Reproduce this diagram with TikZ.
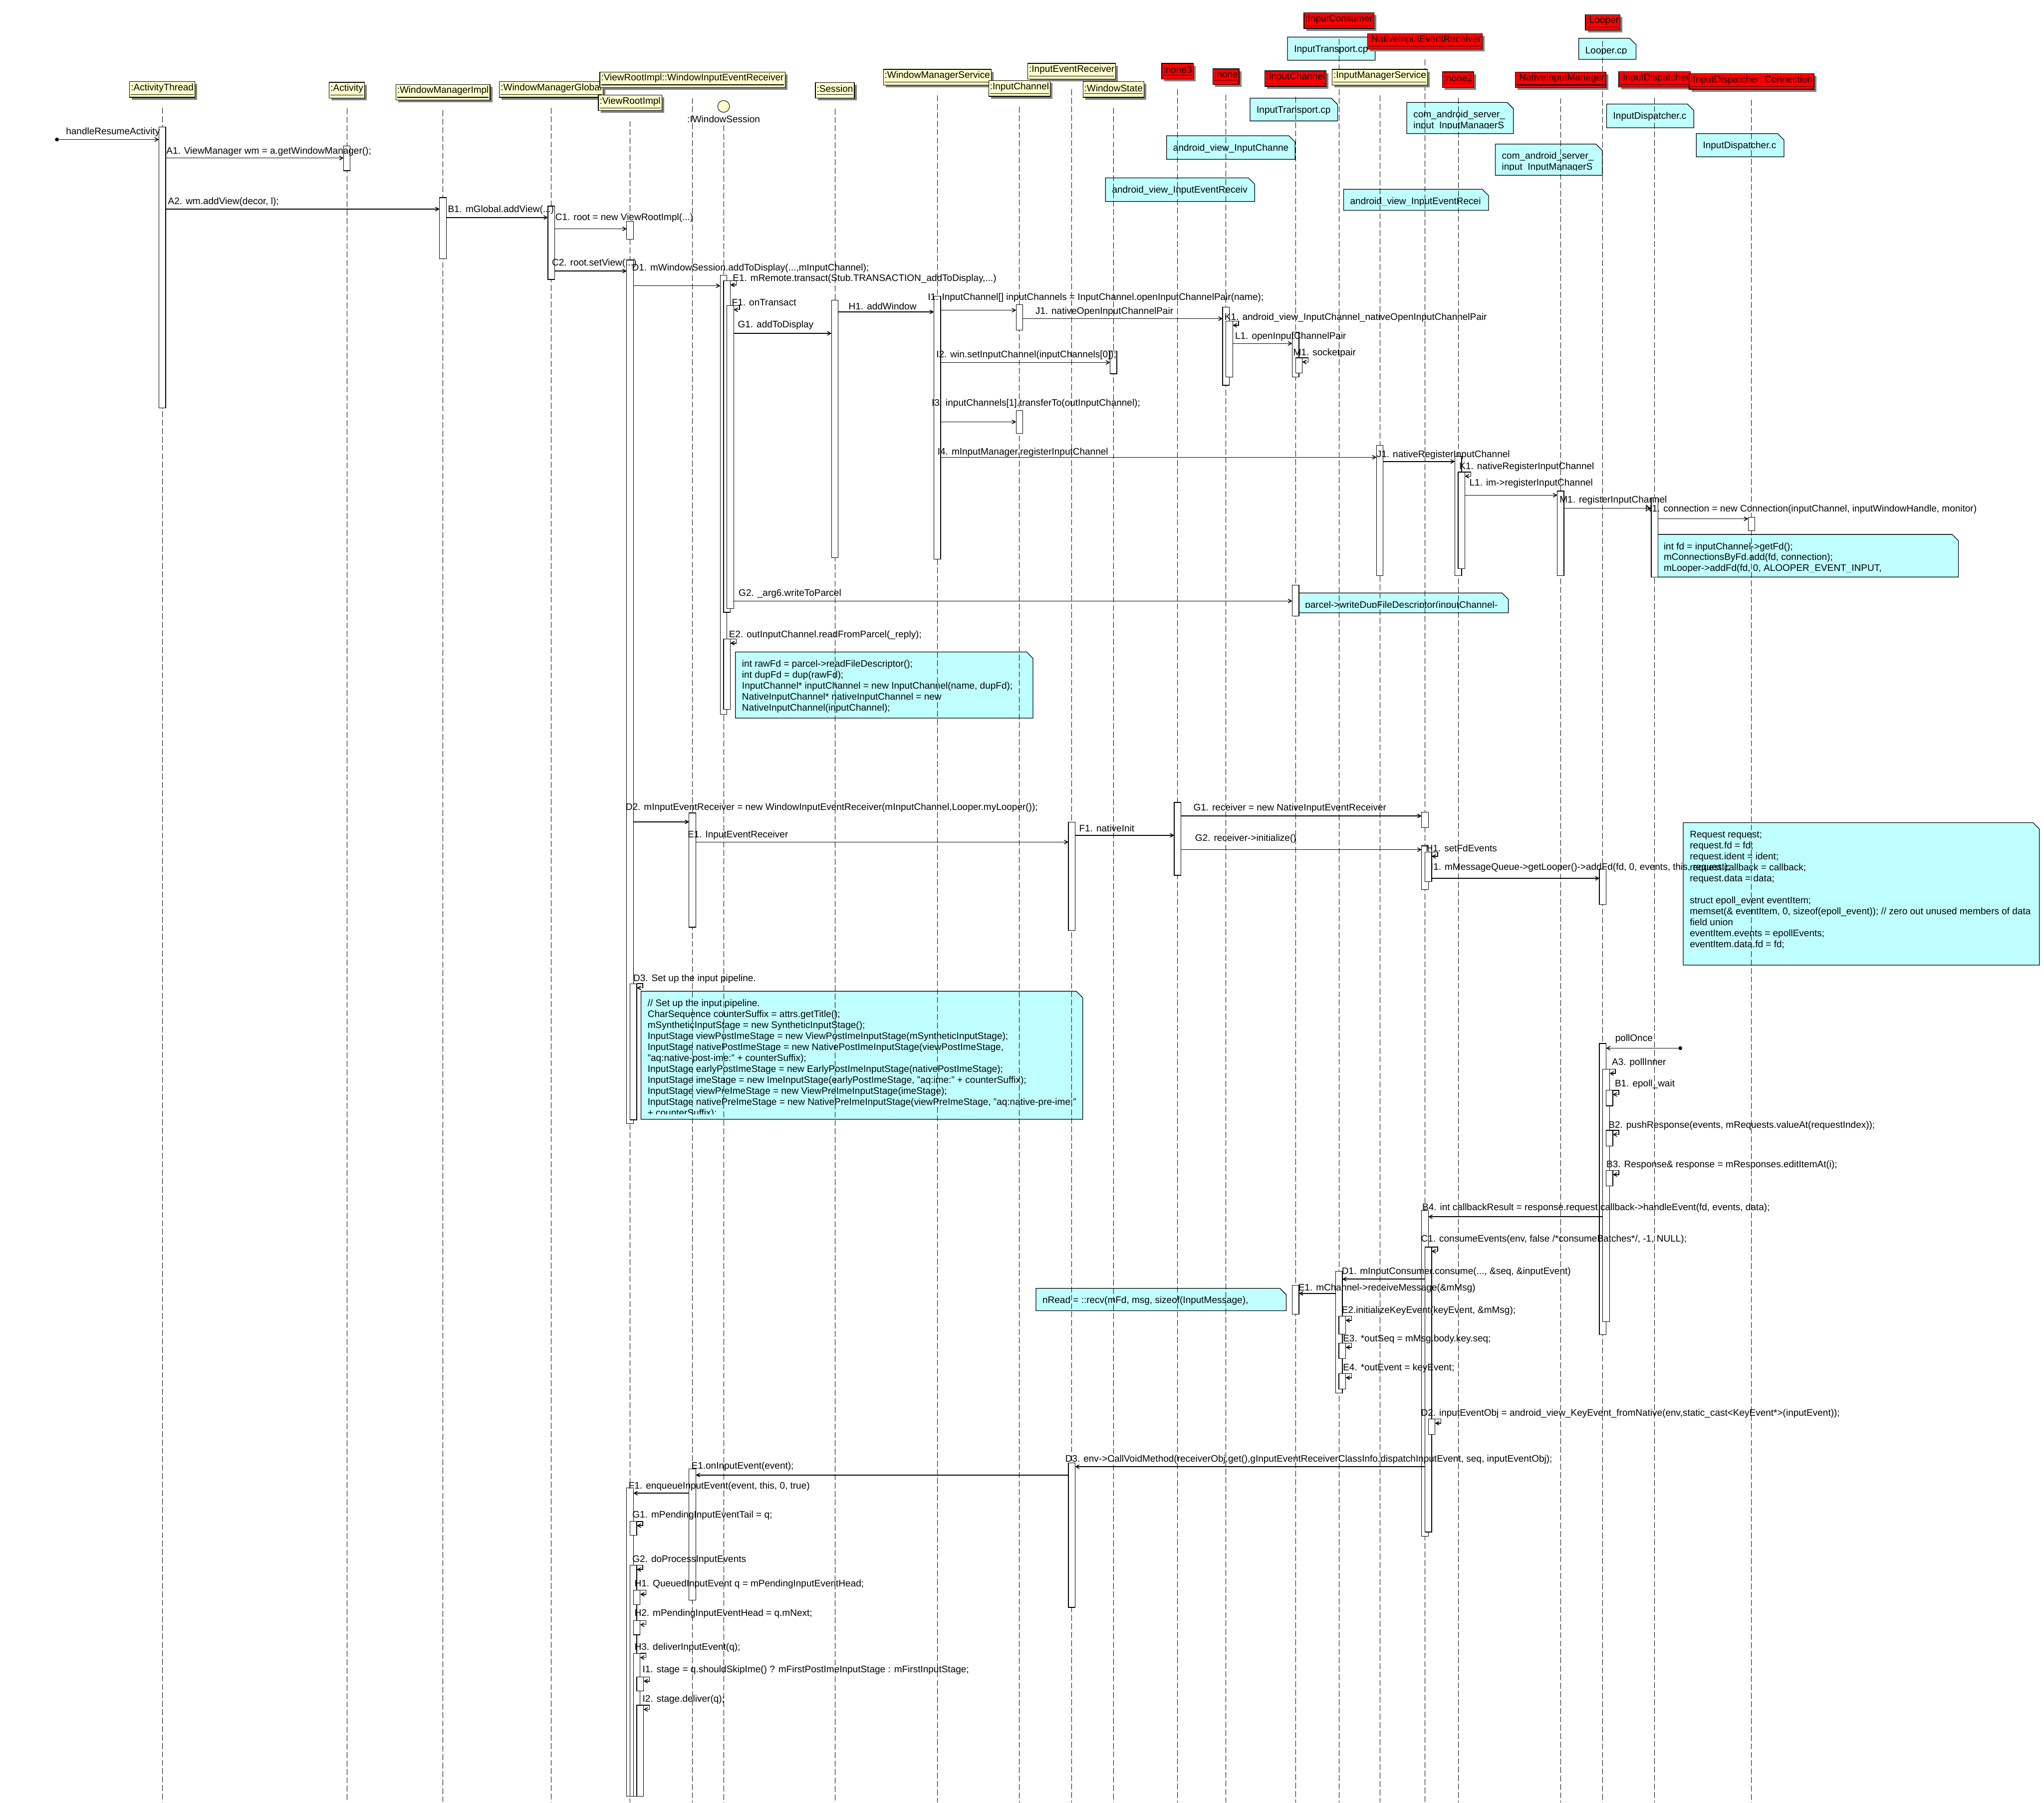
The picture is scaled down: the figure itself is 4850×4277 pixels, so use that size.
\documentclass[tikz,border=0pt]{standalone}
\usepackage{fontspec}
\setmainfont{Liberation Sans}
\usetikzlibrary{arrows.meta,shadows}

\definecolor{headyellow}{RGB}{255,255,204}
\definecolor{headred}{RGB}{255,0,0}
\definecolor{notecyan}{RGB}{192,255,255}
\definecolor{shadowgray}{RGB}{128,128,128}

\newcommand\act[4]{\node[actbox, minimum height={(#4-#3)*0.1mm}] (#1) at (#2,#3) {};}
\newcommand\selfcall[1]{\draw[msg] (#1.north east) -- ++(14,0) -- ++(0,10) -- ++(-14,0);}
\newcommand\codenote[6]{%
  \fill[notecyan] (#2,#3) -- (#4-15,#3) -- (#4,#3+15) -- (#4,#5) -- (#2,#5) -- cycle;
  \begin{scope}
    \clip (#2,#3) rectangle (#4-15,#5-12);
    \node[notetext] (#1) at (#2+15,#3+13) {\rule{0pt}{2.2mm}#6};
  \end{scope}
  \draw[noteline] (#4-15,#3) -- (#2,#3) -- (#2,#5) -- (#4,#5) -- (#4,#3+15) -- cycle;
}

\begin{document}
\begin{tikzpicture}[
  x=0.1mm, y=-0.1mm,
  font=\fontsize{6.4pt}{7.4pt}\selectfont,
  head/.style={draw, fill=headyellow, line width=0.15mm, inner xsep=0.3mm, inner ysep=0pt, minimum height=3.7mm,
    drop shadow={shadow xshift=0.55mm, shadow yshift=-0.55mm, fill=shadowgray, opacity=1}},
  redhead/.style={head, fill=headred},
  iface/.style={circle, draw, fill=headyellow, line width=0.12mm, minimum size=2.8mm, inner sep=0pt},
  lifeline/.style={dash pattern=on 1.4mm off 0.6mm, line width=0.12mm},
  actbox/.style={draw, fill=white, line width=0.15mm, anchor=north west, minimum width=1.6mm, inner sep=0pt, outer sep=0pt},
  msg/.style={-{Straight Barb[length=0.8mm, width=0.9mm]}, line width=0.18mm},
  lbl/.style={anchor=west, inner sep=0pt},
  noteline/.style={draw, line width=0.15mm},
  notetext/.style={anchor=north west, align=left, inner sep=0pt},
  startdot/.style={circle, fill, inner sep=0pt, minimum size=0.9mm}
]
\fill[white] (0,0) rectangle (4850,4277);
\useasboundingbox (0,0) rectangle (4850,4277);

\codenote{nTopIT}{3055}{88}{3263}{143}{InputTransport.cp}
\codenote{nLoop}{3746}{91}{3882}{141}{Looper.cp}
\codenote{nIT}{2966}{233}{3174}{287}{InputTransport.cp}
\codenote{nIMSa}{3338}{243}{3591}{317}{com\_android\_server\_\\input\_InputManagerS}
\codenote{nIDa}{3812}{247}{4019}{303}{InputDispatcher.c}
\codenote{nIMSb}{3548}{342}{3802}{416}{com\_android\_server\_\\input\_InputManagerS}
\codenote{nIDb}{4025}{317}{4233}{372}{InputDispatcher.c}
\codenote{nICh}{2768}{322}{3073}{378}{android\_view\_InputChanne}
\codenote{nIERv}{2623}{422}{2977}{478}{android\_view\_InputEventReceiv}
\codenote{nIERr}{3188}{449}{3532}{499}{android\_view\_InputEventRecei}
\codenote{nConn}{3932}{1268}{4647}{1369}{int fd = inputChannel->getFd();\\mConnectionsByFd.add(fd, connection);\\mLooper->addFd(fd, 0, ALOOPER\_EVENT\_INPUT,}
\codenote{nParcel}{3081}{1407}{3579}{1454}{parcel->writeDupFileDescriptor(inputChannel-}
\codenote{nRead}{1745}{1547}{2451}{1704}{int rawFd = parcel->readFileDescriptor();\\int dupFd = dup(rawFd);\\InputChannel* inputChannel = new InputChannel(name, dupFd);\\NativeInputChannel* nativeInputChannel = new\\NativeInputChannel(inputChannel);}
\codenote{nReq}{3994}{1952}{4839}{2290}{Request request;\\request.fd = fd;\\request.ident = ident;\\request.callback = callback;\\request.data = data;\\[7.4pt]struct epoll\_event eventItem;\\memset(\& eventItem, 0, sizeof(epoll\_event)); // zero out unused members of data\\field union\\eventItem.events = epollEvents;\\eventItem.data.fd = fd;}
\codenote{nPipe}{1521}{2352}{2569}{2656}{// Set up the input pipeline.\\CharSequence counterSuffix = attrs.getTitle();\\mSyntheticInputStage = new SyntheticInputStage();\\InputStage viewPostImeStage = new ViewPostImeInputStage(mSyntheticInputStage);\\InputStage nativePostImeStage = new NativePostImeInputStage(viewPostImeStage,\\"aq:native-post-ime:" + counterSuffix);\\InputStage earlyPostImeStage = new EarlyPostImeInputStage(nativePostImeStage);\\InputStage imeStage = new ImeInputStage(earlyPostImeStage, "aq:ime:" + counterSuffix);\\InputStage viewPreImeStage = new ViewPreImeInputStage(imeStage);\\InputStage nativePreImeStage = new NativePreImeInputStage(viewPreImeStage, "aq:native-pre-ime:"\\+ counterSuffix);}
\codenote{nRecv}{2458}{3057}{3052}{3110}{nRead = ::recv(mFd, msg, sizeof(InputMessage),}

\node[head] (hAT) at (385,212.5) {\underline{:ActivityThread}};
\node[head] (hAct) at (823,214) {\underline{:Activity}};
\node[head] (hWMI) at (1051,219) {\underline{:WindowManagerImpl}};
\node[head] (hWMG) at (1308,212.5) {\underline{:WindowManagerGlobal}};
\node[head] (hWIER) at (1643,189.5) {\underline{:ViewRootImpl::WindowInputEventReceiver}};
\node[head] (hVR) at (1495,244) {\underline{:ViewRootImpl}};
\node[iface] (hIWS) at (1717,252.5) {};
\node[inner sep=0pt] (tIWS) at (1717,283) {:IWindowSession};
\node[head] (hSes) at (1981,214.5) {\underline{:Session}};
\node[head] (hWMS) at (2224,183) {\underline{:WindowManagerService}};
\node[head] (hIC) at (2419,210) {\underline{:InputChannel}};
\node[head] (hIER) at (2543,169) {\underline{:InputEventReceiver}};
\node[head] (hWS) at (2642,212.5) {\underline{:WindowState}};
\node[redhead] (hNthree) at (2794,169) {\underline{:none3}};
\node[redhead] (hNone) at (2909,182) {\underline{:none}};
\node[redhead] (hICr) at (3074,186.5) {\underline{:InputChannel}};
\node[redhead] (hICons) at (3177,49) {\underline{:InputConsumer}};
\node[head] (hIMS) at (3274,183) {\underline{:InputManagerService}};
\node[redhead] (hNIER) at (3381,98) {\underline{:NativeInputEventReceiver}};
\node[redhead] (hNtwo) at (3460,189) {\underline{:none2}};
\node[redhead] (hNIM) at (3703,189.5) {\underline{:NativeInputManager}};
\node[redhead] (hLoop) at (3803,53.5) {\underline{:Looper}};
\node[redhead] (hID) at (3926,188.5) {\underline{:InputDispatcher}};
\node[redhead] (hConn) at (4156,193.5) {\underline{:InputDispatcher::Connection}};

\foreach \h in {hAT,hAct,hWMI,hWMG,hWIER,hVR,hSes,hWMS,hIC,hIER,hWS,hNthree,hNone,hICr,hICons,hIMS,hNIER,hNtwo,hNIM,hLoop,hID,hConn}
  \draw[lifeline] ([yshift=-2.4mm]\h.south) -- (\h.south |- 0,4277);
\draw[lifeline] ([yshift=-0.5mm]tIWS.south) -- (tIWS.south |- 0,4277);

% heads that a lifeline crosses go on top again
\node[head] at (hIMS) {\underline{:InputManagerService}};
\node[redhead] at (hNIM) {\underline{:NativeInputManager}};
\node[redhead] at (hConn) {\underline{:InputDispatcher::Connection}};

\act{aAT}{377}{301}{968}
\act{aAct}{815}{346}{405}
\act{aWMI}{1043}{469}{614}
\act{aWMG}{1300}{489}{663}
\act{aVRa}{1487}{525}{568}
\act{aVRb}{1487}{617}{2666}
\act{aVRc}{1495}{2334}{2657}
\act{aIWS}{1709}{653}{1695}
\act{aIWSe}{1717}{666}{1453}
\act{aIWSf}{1725}{725}{1444}
\act{aIWSr}{1717}{1516}{1683}
\act{aSes}{1973}{712}{1323}
\act{aWMS}{2216}{703}{1327}
\act{aICa}{2411}{723}{783}
\act{aICb}{2411}{974}{1028}
\act{aWS}{2634}{833}{887}
\act{aNone}{2901}{729}{914}
\act{aNoneK}{2909}{762}{895}
\act{aICra}{3066}{788}{895}
\act{aICrM}{3074}{849}{885}
\act{aIMS}{3266}{1057}{1366}
\act{aNtwo}{3452}{1083}{1366}
\act{aNtwoK}{3460}{1120}{1349}
\act{aNIM}{3695}{1165}{1366}
\act{aID}{3918}{1181}{1369}
\act{aConn}{4148}{1227}{1259}
\act{aICrb}{3066}{1388}{1462}
\act{aWIERa}{1635}{1929}{2200}
\act{aIERa}{2535}{1951}{2208}
\act{aNthree}{2786}{1904}{2077}
\act{aNIERa}{3373}{1927}{1964}
\act{aNIERb}{3373}{2007}{2111}
\act{aNIERh}{3381}{2022}{2092}
\act{aLoopa}{3795}{2062}{2146}
\act{aLoopb}{3795}{2476}{3167}
\act{aLoopA}{3803}{2537}{3136}
\act{aLoopBa}{3811}{2587}{2624}
\act{aLoopBb}{3811}{2682}{2719}
\act{aLoopBc}{3811}{2777}{2814}
\act{aNIERc}{3373}{2872}{3645}
\act{aNIERd}{3381}{2959}{3635}
\act{aNIERe}{3389}{3367}{3404}
\act{aICons}{3169}{3016}{3305}
\act{aIConsa}{3177}{3123}{3166}
\act{aIConsb}{3177}{3187}{3224}
\act{aIConsc}{3177}{3259}{3296}
\act{aICrc}{3066}{3050}{3118}
\act{aIERb}{2535}{3471}{3814}
\act{aWIERb}{1635}{3485}{3797}
\act{aVRd}{1487}{3530}{4262}
\act{aVRg}{1495}{3610}{3643}
\act{aVRh}{1495}{3714}{4262}
\act{aVRi}{1503}{3773}{3807}
\act{aVRj}{1503}{3845}{3879}
\act{aVRk}{1503}{3923}{4262}
\act{aVRl}{1511}{3979}{4012}
\act{aVRm}{1511}{4046}{4262}

\node[startdot] (sResume) at (135,331) {};
\draw[msg] (sResume) -- (aAT.west |- sResume);
\draw[msg] (aAT.east |- 0,375) -- (aAct.west |- 0,375);
\draw[msg] (aAT.east |- 0,496) -- (aWMI.west |- 0,496);
\draw[msg] (aWMI.east |- 0,516) -- (aWMG.west |- 0,516);
\draw[msg] (aWMG.east |- 0,543) -- (aVRa.west |- 0,543);
\draw[msg] (aWMG.east |- 0,643) -- (aVRb.west |- 0,643);
\draw[msg] (aVRb.east |- 0,678) -- (aIWS.west |- 0,678);
\selfcall{aIWSe}
\selfcall{aIWSf}
\draw[msg] (aIWSf.east |- 0,791) -- (aSes.west |- 0,791);
\draw[msg] (aSes.east |- 0,740) -- (aWMS.west |- 0,740);
\draw[msg] (aWMS.east |- 0,736) -- (aICa.west |- 0,736);
\draw[msg] (aICa.east |- 0,756) -- (aNone.west |- 0,756);
\selfcall{aNoneK}
\draw[msg] (aNoneK.east |- 0,815) -- (aICra.west |- 0,815);
\selfcall{aICrM}
\draw[msg] (aWMS.east |- 0,860) -- (aWS.west |- 0,860);
\draw[msg] (aWMS.east |- 0,1001) -- (aICb.west |- 0,1001);
\draw[msg] (aWMS.east |- 0,1085) -- (aIMS.west |- 0,1085);
\draw[msg] (aIMS.east |- 0,1095) -- (aNtwo.west |- 0,1095);
\selfcall{aNtwoK}
\draw[msg] (aNtwoK.east |- 0,1175) -- (aNIM.west |- 0,1175);
\draw[msg] (aNIM.east |- 0,1206) -- (aID.west |- 0,1206);
\draw[msg] (aID.east |- 0,1231) -- (aConn.west |- 0,1231);
\draw[msg] (aIWSf.east |- 0,1426) -- (aICrb.west |- 0,1426);
\selfcall{aIWSr}
\draw[msg] (aVRb.east |- 0,1950) -- (aWIERa.west |- 0,1950);
\draw[msg] (aWIERa.east |- 0,1998) -- (aIERa.west |- 0,1998);
\draw[msg] (aIERa.east |- 0,1982) -- (aNthree.west |- 0,1982);
\draw[msg] (aNthree.east |- 0,1936) -- (aNIERa.west |- 0,1936);
\draw[msg] (aNthree.east |- 0,2016) -- (aNIERb.west |- 0,2016);
\selfcall{aNIERh}
\draw[msg] (aNIERh.east |- 0,2084) -- (aLoopa.west |- 0,2084);
\selfcall{aVRc}
\node[startdot] (sPoll) at (3987,2487) {};
\draw[msg] (sPoll) -- (aLoopb.east |- sPoll);
\selfcall{aLoopA}
\selfcall{aLoopBa}
\selfcall{aLoopBb}
\selfcall{aLoopBc}
\draw[msg] (aLoopA.west |- 0,2887) -- (aNIERc.east |- 0,2887);
\selfcall{aNIERd}
\draw[msg] (aNIERd.west |- 0,3035) -- (aICons.east |- 0,3035);
\draw[msg] (aICons.west |- 0,3069) -- (aICrc.east |- 0,3069);
\selfcall{aIConsa}
\selfcall{aIConsb}
\selfcall{aIConsc}
\selfcall{aNIERe}
\draw[msg] (aNIERd.west |- 0,3480) -- (aIERb.east |- 0,3480);
\draw[msg] (aIERb.west |- 0,3500) -- (aWIERb.east |- 0,3500);
\draw[msg] (aWIERb.west |- 0,3543) -- (aVRd.east |- 0,3543);
\selfcall{aVRg}
\selfcall{aVRh}
\selfcall{aVRi}
\selfcall{aVRj}
\selfcall{aVRk}
\selfcall{aVRl}
\selfcall{aVRm}

\node[lbl] (tResume) at (156,313) {handleResumeActivity};
\node[lbl] (tA1) at (394,359) {A1. ViewManager wm = a.getWindowManager();};
\node[lbl] (tA2) at (398,479) {A2. wm.addView(decor, l);};
\node[lbl] (tB1) at (1062,498) {B1. mGlobal.addView(...)};
\node[lbl] (tC1) at (1317,517) {C1. root = new ViewRootImpl(...)};
\node[lbl] (tC2) at (1309,625) {C2. root.setView(...)};
\node[lbl] (tD1) at (1499,637) {D1. mWindowSession.addToDisplay(...,mInputChannel);};
\node[lbl] (tE1) at (1738,661) {E1. mRemote.transact(Stub.TRANSACTION\_addToDisplay,...)};
\node[lbl] (tF1) at (1736,718) {F1. onTransact};
\node[lbl] (tG1) at (1750,772) {G1. addToDisplay};
\node[lbl] (tH1) at (2013,727) {H1. addWindow};
\node[lbl] (tI1) at (2201,706) {I1. InputChannel[] inputChannels = InputChannel.openInputChannelPair(name);};
\node[lbl] (tJ1) at (2456,739) {J1. nativeOpenInputChannelPair};
\node[lbl] (tK1) at (2905,754) {K1. android\_view\_InputChannel\_nativeOpenInputChannelPair};
\node[lbl] (tL1) at (2930,799) {L1. openInputChannelPair};
\node[lbl] (tM1) at (3068,838) {M1. socketpair};
\node[lbl] (tI2) at (2221,843) {I2. win.setInputChannel(inputChannels[0]);};
\node[lbl] (tI3) at (2210,958) {I3. inputChannels[1].transferTo(outInputChannel);};
\node[lbl] (tI4) at (2224,1073) {I4. mInputManager.registerInputChannel};
\node[lbl] (tJ1b) at (3266,1079) {J1. nativeRegisterInputChannel};
\node[lbl] (tK1b) at (3462,1108) {K1. nativeRegisterInputChannel};
\node[lbl] (tL1b) at (3486,1147) {L1. im->registerInputChannel};
\node[lbl] (tM1b) at (3700,1187) {M1. registerInputChannel};
\node[lbl] (tN1) at (3903,1208) {N1. connection = new Connection(inputChannel, inputWindowHandle, monitor)};
\node[lbl] (tG2) at (1752,1408) {G2. \_arg6.writeToParcel};
\node[lbl] (tE2) at (1729,1507) {E2. outInputChannel.readFromParcel(\_reply);};
\node[lbl] (tD2) at (1484,1917) {D2. mInputEventReceiver = new WindowInputEventReceiver(mInputChannel,Looper.myLooper());};
\node[lbl] (tE1b) at (1631,1982) {E1. InputEventReceiver};
\node[lbl] (tF1b) at (2560,1965) {F1. nativeInit};
\node[lbl] (tG1b) at (2831,1918) {G1. receiver = new NativeInputEventReceiver};
\node[lbl] (tG2b) at (2835,1990) {G2. receiver->initialize()};
\node[lbl] (tH1b) at (3383,2013) {H1. setFdEvents};
\node[lbl] (tI1b) at (3394,2059) {I1. mMessageQueue->getLooper()->addFd(fd, 0, events, this, request);};
\node[lbl] (tD3) at (1502,2323) {D3. Set up the input pipeline.};
\node[lbl] (tPoll) at (3832,2465) {pollOnce};
\node[lbl] (tA3) at (3824,2522) {A3. pollInner};
\node[lbl] (tB1b) at (3831,2572) {B1. epoll\_wait};
\node[lbl] (tB2) at (3816,2671) {B2. pushResponse(events, mRequests.valueAt(requestIndex));};
\node[lbl] (tB3) at (3811,2764) {B3. Response\& response = mResponses.editItemAt(i);};
\node[lbl] (tB4) at (3374,2866) {B4. int callbackResult = response.request.callback->handleEvent(fd, events, data);};
\node[lbl] (tC1b) at (3371,2941) {C1. consumeEvents(env, false /*consumeBatches*/, -1, NULL);};
\node[lbl] (tD1b) at (3183,3018) {D1. mInputConsumer.consume(..., \&seq, \&inputEvent)};
\node[lbl] (tE1c) at (3080,3057) {E1. mChannel->receiveMessage(\&mMsg)};
\node[lbl] (tE2b) at (3183,3110) {E2.initializeKeyEvent(keyEvent, \&mMsg);};
\node[lbl] (tE3) at (3186,3177) {E3. *outSeq = mMsg.body.key.seq;};
\node[lbl] (tE4) at (3186,3246) {E4. *outEvent = keyEvent;};
\node[lbl] (tD2b) at (3371,3354) {D2. inputEventObj = android\_view\_KeyEvent\_fromNative(env,static\_cast<KeyEvent*>(inputEvent));};
\node[lbl] (tD3b) at (2527,3463) {D3. env->CallVoidMethod(receiverObj.get(),gInputEventReceiverClassInfo.dispatchInputEvent, seq, inputEventObj);};
\node[lbl] (tE1d) at (1640,3480) {E1.onInputEvent(event);};
\node[lbl] (tF1c) at (1491,3527) {F1. enqueueInputEvent(event, this, 0, true)};
\node[lbl] (tG1c) at (1500,3596) {G1. mPendingInputEventTail = q;};
\node[lbl] (tG2c) at (1500,3701) {G2. doProcessInputEvents};
\node[lbl] (tH1c) at (1505,3759) {H1. QueuedInputEvent q = mPendingInputEventHead;};
\node[lbl] (tH2) at (1505,3829) {H2. mPendingInputEventHead = q.mNext;};
\node[lbl] (tH3) at (1505,3909) {H3. deliverInputEvent(q);};
\node[lbl] (tI1c) at (1524,3963) {I1. stage = q.shouldSkipIme() ? mFirstPostImeInputStage : mFirstInputStage;};
\node[lbl] (tI2b) at (1524,4032) {I2. stage.deliver(q);};
\end{tikzpicture}
\end{document}
